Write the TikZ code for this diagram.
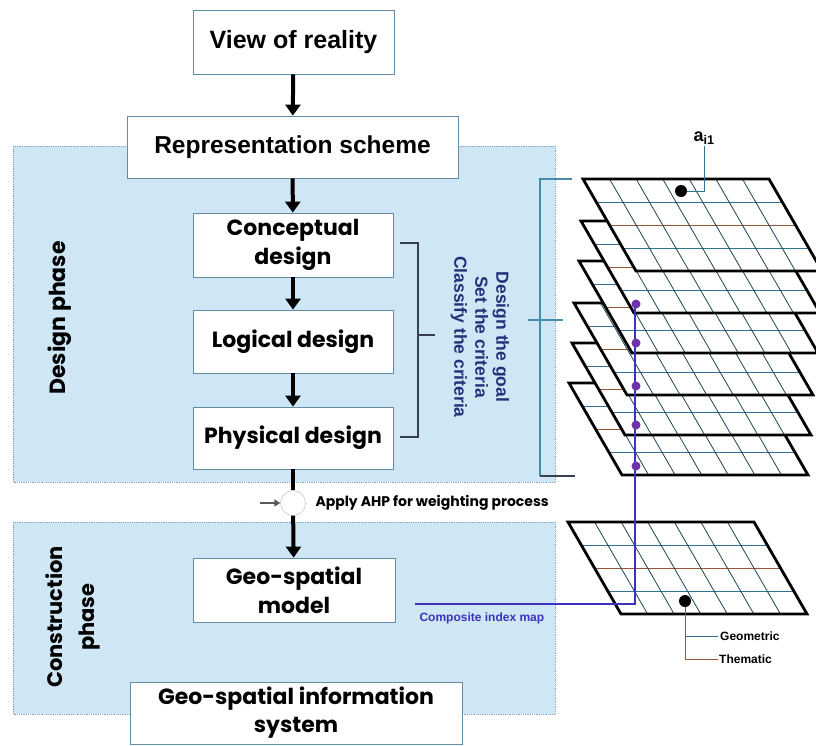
\documentclass[tikz,border=0pt]{standalone}
\usepackage{fontspec}
\setmainfont{Liberation Sans}
\newfontfamily\pop{Poppins}
\usetikzlibrary{arrows.meta}
\definecolor{phasebg}{RGB}{207,230,245}
\definecolor{phaseborder}{RGB}{130,165,195}
\definecolor{boxborder}{RGB}{100,140,165}
\definecolor{gridteal}{RGB}{50,115,145}
\definecolor{gridbrown}{RGB}{150,85,55}
\definecolor{navytext}{RGB}{35,50,120}
\definecolor{compblue}{RGB}{60,50,190}
\definecolor{dotpurple}{RGB}{110,50,170}
\definecolor{brackteal}{RGB}{70,140,175}
\definecolor{brackdark}{RGB}{55,65,80}
\tikzset{
  x=1pt, y=-1pt,
  phase/.style={fill=phasebg, draw=phaseborder, densely dotted, line width=0.8pt},
  flowbox/.style={draw=boxborder, fill=white, line width=0.8pt, align=center, inner sep=0pt},
  arr/.style={line width=4pt, -{Triangle[length=11pt,width=15pt]}},
  plain/.style={line width=4pt},
  layer/.pic={
    \fill[white] (0,0) -- (186,0) -- (239,92) -- (53,92) -- cycle;
    \foreach \i/\c in {1/gridteal,2/gridbrown,3/gridteal}
      \draw[\c, line width=0.8pt] (13.25*\i,23*\i) -- ++(186,0);
    \foreach \j in {1,...,6}
      \draw[gridteal!60!black, line width=0.8pt] (26.57*\j,0) -- ++(53,92);
    \draw[line width=2.8pt, line join=miter] (0,0) -- (186,0) -- (239,92) -- (53,92) -- cycle;
  }
}
\begin{document}
\begin{tikzpicture}
\useasboundingbox (0,0) rectangle (816,745);
% phase backgrounds
\path[phase] (13,146) rectangle (555,482);
\path[phase] (13,522) rectangle (555,714);
% phase labels
\node[rotate=90, font=\pop\bfseries\fontsize{22}{26}\selectfont] (dlab) at (60,318) {Design phase};
\node[rotate=90, align=center, font=\pop\bfseries\fontsize{21}{32}\selectfont] (clab) at (73,617) {Construction\\phase};
% flow boxes
\node[flowbox, minimum width=201pt, minimum height=64pt, font=\bfseries\fontsize{25}{28}\selectfont] (view) at (293.5,42) {View of reality};
\node[flowbox, minimum width=331pt, minimum height=62pt, font=\bfseries\fontsize{24.5}{28}\selectfont] (rep) at (292.5,147) {Representation scheme};
\node[flowbox, minimum width=200pt, minimum height=64pt, font=\pop\bfseries\fontsize{22}{29}\selectfont] (concept) at (293,245) {Conceptual\\design};
\node[flowbox, minimum width=200pt, minimum height=63pt, font=\pop\bfseries\fontsize{22}{29}\selectfont] (logical) at (293,341.5) {Logical design};
\node[flowbox, minimum width=200pt, minimum height=62pt, font=\pop\bfseries\fontsize{22}{29}\selectfont] (physical) at (293,438) {Physical design};
\node[flowbox, minimum width=202pt, minimum height=64pt, font=\pop\bfseries\fontsize{22}{29}\selectfont] (geomodel) at (294,590) {Geo-spatial\\model};
\node[flowbox, minimum width=332pt, minimum height=62pt, font=\pop\bfseries\fontsize{22}{28}\selectfont] (gis) at (296,713) {Geo-spatial information\\system};
% AHP
\node[circle, draw=gray!60, fill=white, minimum size=25pt, inner sep=0pt] (ahp) at (293,503) {};
\node[anchor=west, font=\pop\bfseries\fontsize{14}{16}\selectfont] (ahptext) at (312,503) {Apply AHP for weighting process};
\coordinate (ahpin) at (260,503);
% arrows
\draw[arr] (view) -- (rep);
\draw[arr] (rep) -- (concept);
\draw[arr] (concept) -- (logical);
\draw[arr] (logical) -- (physical);
\draw[plain] (physical) -- (ahp);
\draw[arr] (ahp) -- (geomodel);
\draw[gray!70!black, line width=1.5pt, -{Triangle[length=6pt,width=7pt]}] (ahpin) -- (ahp);
% bracket
\coordinate (bt) at (400,243);
\coordinate (bb) at (400,437);
\draw[brackdark, line width=2.2pt] (bt) -- (418,243) -- (418,437) -- (bb);
\draw[brackdark, line width=2.2pt] (418,335) -- (435,335);
\node[rotate=-90, align=center, text=navytext, font=\bfseries\fontsize{17.5}{21}\selectfont] (crit) at (480,337) {Design the goal\\Set the criteria\\Classify the criteria};
% big bracket
\draw[brackteal, line width=1.2pt] (572,179) -- (540,179) -- (540,476);
\draw[brackdark, line width=1.2pt] (540,476) -- (575,476);
\draw[brackteal, line width=1.2pt] (528,320) -- (563,320);
% layer stack
\pic at (569,383) {layer};
\pic at (572,343) {layer};
\pic at (574,303) {layer};
\pic at (579,261) {layer};
\pic at (581,221) {layer};
\pic at (583,179) {layer};
\pic at (568,522) {layer};
% top cell marker
\node[circle, fill=black, minimum size=12pt, inner sep=0pt] (topdot) at (681,191) {};
\node[font=\bfseries\fontsize{18}{20}\selectfont, inner sep=1pt] (ai) at (704,138) {a\textsubscript{i1}};
\draw[gridteal, line width=0.8pt] (topdot) -- (704,191) -- (ai.south);
% composite
\coordinate (c1) at (635,304);
\coordinate (c2) at (635,604);
\coordinate (c3) at (415,604);
\draw[compblue, line width=2.5pt] (c1) -- (c2) -- (c3);
\foreach \yy in {304,343,386,425,466}
  \fill[dotpurple] (636,\yy) circle (4.5pt);
\node[anchor=west, text=compblue, font=\bfseries\fontsize{12}{14}\selectfont] (comp) at (416,618) {Composite index map};
% bottom cell marker and legend
\node[circle, fill=black, minimum size=12pt, inner sep=0pt] (botdot) at (685,601) {};
\node[anchor=west, font=\bfseries\fontsize{12}{14}\selectfont, inner sep=2pt] (geo) at (718,636) {Geometric};
\node[anchor=west, font=\bfseries\fontsize{12}{14}\selectfont, inner sep=1pt] (them) at (718,659) {Thematic};
\draw[gridteal, line width=0.8pt] (botdot) -- (685,636) -- (geo.west);
\draw[gridbrown, line width=0.8pt] (685,636) -- (685,659) -- (them.west);
\end{tikzpicture}
\end{document}
